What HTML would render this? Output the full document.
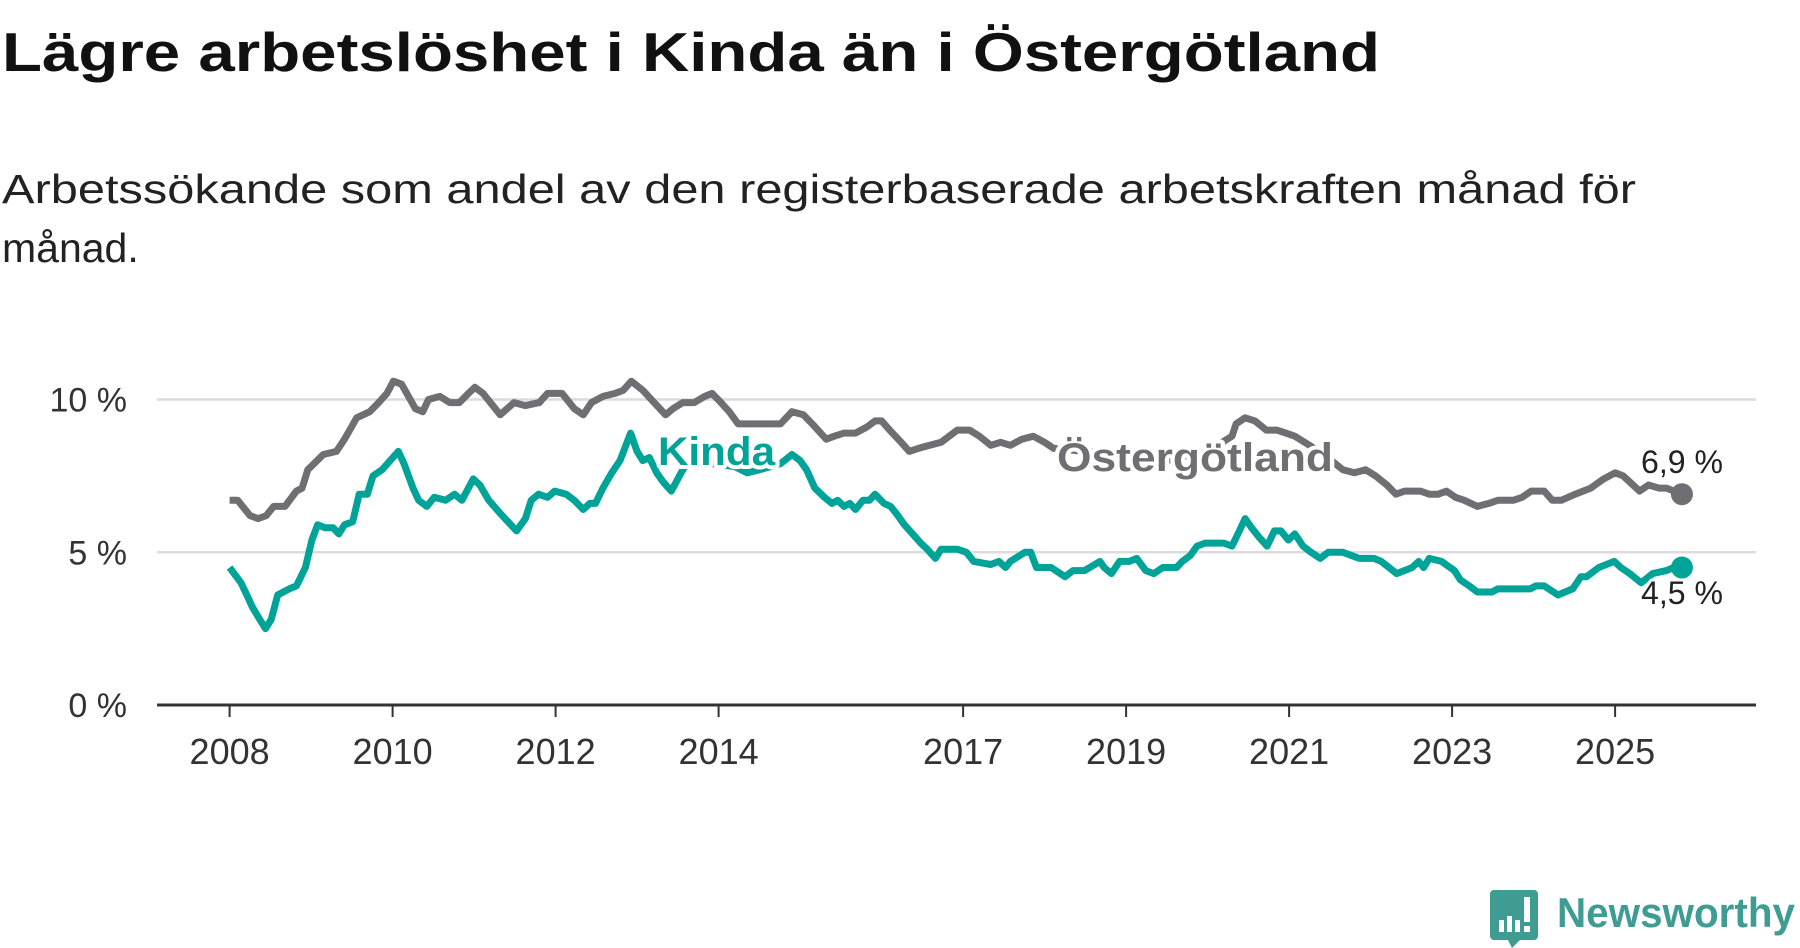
<!DOCTYPE html>
<html><head><meta charset="utf-8"><style>
html,body{margin:0;padding:0;background:#fff;}
svg{display:block;font-family:"Liberation Sans","DejaVu Sans",sans-serif;}
</style></head><body>
<svg id="chart" width="1800" height="948" viewBox="0 0 1800 948">
<text x="2" y="71" font-size="55" font-weight="bold" fill="#111" textLength="1378" lengthAdjust="spacingAndGlyphs">Lägre arbetslöshet i Kinda än i Östergötland</text>
<text x="2" y="203" font-size="41" fill="#222" textLength="1634" lengthAdjust="spacingAndGlyphs">Arbetssökande som andel av den registerbaserade arbetskraften månad för</text>
<text x="2" y="262" font-size="41" fill="#222">månad.</text>
<g id="grid"></g>
<g id="axes"></g>
<g id="series"></g>
<g id="labels"></g>
<g>
<path d="M1494 890 h40 a4 4 0 0 1 4 4 v42 a4 4 0 0 1 -4 4 h-14 l-8 8 l-4 -8 h-14 a4 4 0 0 1 -4 -4 v-42 a4 4 0 0 1 4 -4z" fill="#3f9c92"/>
<rect x="1499" y="920" width="5" height="12" fill="#fff"/><rect x="1507" y="916" width="5" height="16" fill="#fff"/><rect x="1515" y="920" width="5" height="12" fill="#fff"/><rect x="1524" y="897" width="6" height="25" fill="#fff"/><rect x="1524" y="926" width="6" height="6" fill="#fff"/>
<text x="1557" y="927" font-size="42" font-weight="bold" fill="#3f9c92" textLength="238" lengthAdjust="spacingAndGlyphs">Newsworthy</text>
</g>
</svg>
<script>
const yTicks = [0, 5, 10];
const yTickLabels = ["0 %", "5 %", "10 %"];
const xTickYears = [2008, 2010, 2012, 2014, 2017, 2019, 2021, 2023, 2025];
const kindaDates = [2008.00,2008.14,2008.23,2008.28,2008.37,2008.44,2008.51,2008.59,2008.73,2008.82,2008.93,2009.01,2009.08,2009.17,2009.27,2009.34,2009.41,2009.51,2009.59,2009.69,2009.76,2009.87,2009.97,2010.07,2010.14,2010.25,2010.32,2010.42,2010.51,2010.65,2010.76,2010.85,2010.99,2011.07,2011.18,2011.31,2011.45,2011.52,2011.63,2011.70,2011.79,2011.90,2011.99,2012.13,2012.23,2012.34,2012.42,2012.49,2012.58,2012.69,2012.79,2012.92,2013.00,2013.07,2013.15,2013.24,2013.32,2013.42,2013.54,2013.63,2014.20,2014.35,2014.50,2014.76,2014.90,2015.00,2015.08,2015.18,2015.30,2015.39,2015.46,2015.54,2015.61,2015.68,2015.77,2015.85,2015.92,2016.03,2016.11,2016.20,2016.28,2016.38,2016.48,2016.56,2016.66,2016.73,2016.93,2017.04,2017.13,2017.34,2017.44,2017.52,2017.58,2017.76,2017.83,2017.90,2018.08,2018.25,2018.35,2018.49,2018.68,2018.73,2018.82,2018.92,2019.04,2019.13,2019.24,2019.34,2019.45,2019.62,2019.69,2019.79,2019.87,2019.97,2020.20,2020.30,2020.39,2020.46,2020.54,2020.63,2020.73,2020.82,2020.90,2020.99,2021.07,2021.17,2021.27,2021.38,2021.48,2021.56,2021.66,2021.86,2021.94,2022.04,2022.13,2022.32,2022.51,2022.59,2022.65,2022.72,2022.87,2023.03,2023.10,2023.21,2023.31,2023.49,2023.56,2023.96,2024.03,2024.13,2024.30,2024.48,2024.58,2024.65,2024.80,2024.99,2025.07,2025.18,2025.32,2025.46,2025.63,2025.72,2025.82];
const kindaValues = [4.5,4.0,3.5,3.2,2.8,2.5,2.8,3.6,3.8,3.9,4.5,5.4,5.9,5.8,5.8,5.6,5.9,6.0,6.9,6.9,7.5,7.7,8.0,8.3,7.9,7.1,6.7,6.5,6.8,6.7,6.9,6.7,7.4,7.2,6.7,6.3,5.9,5.7,6.1,6.7,6.9,6.8,7.0,6.9,6.7,6.4,6.6,6.6,7.1,7.6,8.0,8.9,8.3,8.0,8.1,7.6,7.3,7.0,7.6,8.0,7.8,7.6,7.7,7.9,8.2,8.0,7.7,7.1,6.8,6.6,6.7,6.5,6.6,6.4,6.7,6.7,6.9,6.6,6.5,6.2,5.9,5.6,5.3,5.1,4.8,5.1,5.1,5.0,4.7,4.6,4.7,4.5,4.7,5.0,5.0,4.5,4.5,4.2,4.4,4.4,4.7,4.5,4.3,4.7,4.7,4.8,4.4,4.3,4.5,4.5,4.7,4.9,5.2,5.3,5.3,5.2,5.7,6.1,5.8,5.5,5.2,5.7,5.7,5.4,5.6,5.2,5.0,4.8,5.0,5.0,5.0,4.8,4.8,4.8,4.7,4.3,4.5,4.7,4.5,4.8,4.7,4.4,4.1,3.9,3.7,3.7,3.8,3.8,3.9,3.9,3.6,3.8,4.2,4.2,4.5,4.7,4.5,4.3,4.0,4.3,4.4,4.5,4.5];
const ostDates = [2008.00,2008.10,2008.25,2008.35,2008.45,2008.54,2008.68,2008.82,2008.89,2008.96,2009.15,2009.31,2009.41,2009.56,2009.72,2009.83,2009.93,2010.01,2010.11,2010.28,2010.37,2010.44,2010.58,2010.70,2010.82,2010.93,2011.01,2011.11,2011.32,2011.49,2011.63,2011.80,2011.90,2012.08,2012.23,2012.34,2012.44,2012.58,2012.73,2012.83,2012.93,2013.07,2013.21,2013.35,2013.44,2013.56,2013.70,2013.83,2013.92,2014.03,2014.13,2014.24,2014.48,2014.76,2014.90,2015.04,2015.15,2015.32,2015.42,2015.54,2015.68,2015.82,2015.92,2016.00,2016.10,2016.24,2016.34,2016.45,2016.59,2016.73,2016.83,2016.93,2017.08,2017.20,2017.34,2017.46,2017.58,2017.72,2017.86,2018.00,2018.11,2018.50,2019.00,2019.50,2020.00,2020.30,2020.35,2020.46,2020.58,2020.72,2020.85,2020.96,2021.07,2021.25,2021.52,2021.66,2021.80,2021.94,2022.06,2022.20,2022.31,2022.42,2022.61,2022.72,2022.83,2022.93,2023.04,2023.15,2023.31,2023.45,2023.56,2023.75,2023.86,2023.97,2024.13,2024.23,2024.34,2024.51,2024.70,2024.86,2025.00,2025.10,2025.18,2025.30,2025.41,2025.54,2025.63,2025.82];
const ostValues = [6.7,6.7,6.2,6.1,6.2,6.5,6.5,7.0,7.1,7.7,8.2,8.3,8.7,9.4,9.6,9.9,10.2,10.6,10.5,9.7,9.6,10.0,10.1,9.9,9.9,10.2,10.4,10.2,9.5,9.9,9.8,9.9,10.2,10.2,9.7,9.5,9.9,10.1,10.2,10.3,10.6,10.3,9.9,9.5,9.7,9.9,9.9,10.1,10.2,9.9,9.6,9.2,9.2,9.2,9.6,9.5,9.2,8.7,8.8,8.9,8.9,9.1,9.3,9.3,9.0,8.6,8.3,8.4,8.5,8.6,8.8,9.0,9.0,8.8,8.5,8.6,8.5,8.7,8.8,8.6,8.4,8.3,8.2,8.0,8.3,8.8,9.2,9.4,9.3,9.0,9.0,8.9,8.8,8.5,8.0,7.7,7.6,7.7,7.5,7.2,6.9,7.0,7.0,6.9,6.9,7.0,6.8,6.7,6.5,6.6,6.7,6.7,6.8,7.0,7.0,6.7,6.7,6.9,7.1,7.4,7.6,7.5,7.3,7.0,7.2,7.1,7.1,6.9];

const NS = "http://www.w3.org/2000/svg";
const X0 = 157, X1 = 1756;
function xScale(yr){ return 229.6 + (yr - 2008) * 81.5; }
function yScale(v){ return 705 - v * 30.55; }
function mk(tag, attrs, parent){
  const e = document.createElementNS(NS, tag);
  for (const k in attrs) e.setAttribute(k, attrs[k]);
  parent.appendChild(e); return e;
}
const grid = document.getElementById('grid'), axes = document.getElementById('axes');
const series = document.getElementById('series'), labels = document.getElementById('labels');

yTicks.forEach((t, i) => {
  if (t > 0) {
    const g = mk('line', {x1:X0, x2:X1, y1:yScale(t), y2:yScale(t), stroke:'#dcdcdc', 'stroke-width':2.5}, grid);
    
    
  }
  const tx = mk('text', {x:127, y:yScale(t)+12, 'text-anchor':'end', 'font-size':34, fill:'#333'}, axes);
  tx.textContent = yTickLabels[i];
  
  
});
const ax = mk('line', {x1:X0, x2:X1, y1:705, y2:705, stroke:'#333', 'stroke-width':3}, axes);


xTickYears.forEach(yr => {
  const x = xScale(yr);
  const tk = mk('line', {x1:x, x2:x, y1:705, y2:717, stroke:'#333', 'stroke-width':2}, axes);
  
  
  const tx = mk('text', {x:x, y:764, 'text-anchor':'middle', 'font-size':36, fill:'#333'}, axes);
  tx.textContent = String(yr);
  
  
});
function path(dates, vals){
  return dates.map((d, i) => (i ? 'L' : 'M') + xScale(d).toFixed(1) + ' ' + yScale(vals[i]).toFixed(1)).join(' ');
}
const pO = mk('path', {d:path(ostDates, ostValues), fill:'none', stroke:'#6e6e73', 'stroke-width':7, 'stroke-linejoin':'round'}, series);


const pK = mk('path', {d:path(kindaDates, kindaValues), fill:'none', stroke:'#00a398', 'stroke-width':7, 'stroke-linejoin':'round'}, series);


const nO = ostDates.length - 1, nK = kindaDates.length - 1;
const cO = mk('circle', {cx:xScale(ostDates[nO]), cy:yScale(ostValues[nO]), r:11, fill:'#6e6e73'}, series);


const cK = mk('circle', {cx:xScale(kindaDates[nK]), cy:yScale(kindaValues[nK]), r:11, fill:'#00a398'}, series);



function lab(txt, x, y, size, color, bold, name, len){
  const a = {x:x, y:y, 'font-size':size, fill:color, 'font-weight':bold?'bold':'normal',
    stroke:'#fff', 'stroke-width':bold?8:6, 'paint-order':'stroke', 'stroke-linejoin':'round'};
  if (len) { a.textLength = len; a.lengthAdjust = 'spacingAndGlyphs'; }
  const t = mk('text', a, labels);
  t.textContent = txt;
  
  
  return t;
}
lab('Kinda', 658, 465, 40, '#00a398', true, 'kinda-label', 117);
lab('Östergötland', 1057, 471, 40, '#6e6e73', true, 'ostergotland-label', 276);
lab((ostValues[nO]).toFixed(1).replace('.', ',') + ' %', 1641, 473, 32, '#222', false, 'ostergotland-end-value', 82);
lab((kindaValues[nK]).toFixed(1).replace('.', ',') + ' %', 1641, 604, 32, '#222', false, 'kinda-end-value', 82);
</script>
</body></html>
